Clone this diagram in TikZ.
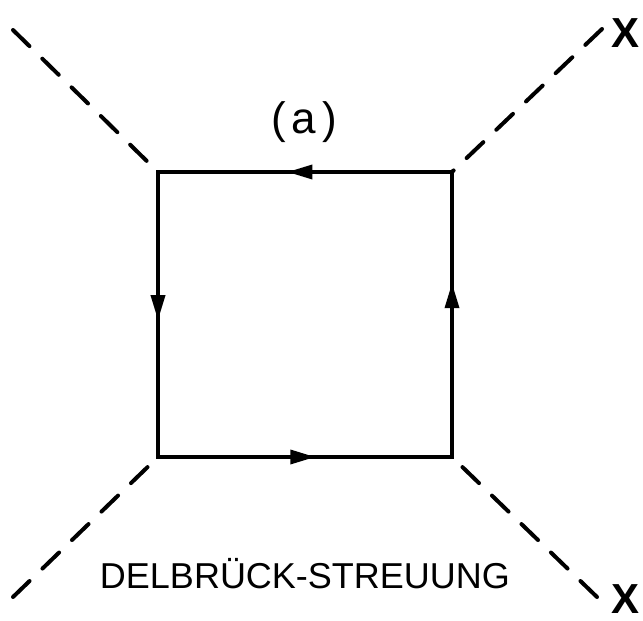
\documentclass[tikz,border=0pt]{standalone}
\usepackage{fontspec}
\setmainfont{Liberation Sans}
\usetikzlibrary{arrows.meta,decorations.markings}
\begin{document}
\begin{tikzpicture}[x=1pt,y=-1pt,
  leg/.style={line width=4pt,line cap=round,dash pattern=on 23pt off 18pt},
  prop/.style={line width=3.5pt,line cap=butt,postaction={decorate},
    decoration={markings,mark=at position #1 with {\arrow{Triangle[length=25pt,width=14pt]}}}},
  lbl/.style={inner sep=0pt,anchor=base},
  xlbl/.style={lbl,font=\bfseries\fontsize{42}{48}\selectfont}]
\useasboundingbox (0,0) rectangle (643,621);
\coordinate (tl) at (158,172);
\coordinate (tr) at (452,172);
\coordinate (br) at (452,457);
\coordinate (bl) at (158,457);
\coordinate (etl) at (13,30);
\coordinate (etr) at (602,29);
\coordinate (ebl) at (13,597);
\coordinate (ebr) at (597,597);
\draw[leg] (etl) -- (tl);
\draw[leg] (etr) -- (tr);
\draw[leg] (ebl) -- (bl);
\draw[leg] (ebr) -- (br);
\draw[prop=0.56] (tr) -- (tl);
\draw[prop=0.52] (tl) -- (bl);
\draw[prop=0.535] (bl) -- (br);
\draw[prop=0.61] (br) -- (tr);
\draw[line width=3.5pt,line join=miter] (tl) -- (tr) -- (br) -- (bl) -- cycle;
\node[lbl,font=\fontsize{44}{52}\selectfont] (a) at (304,133) {(\hspace{6pt}a\hspace{6pt})};
\node[lbl,font=\fontsize{36}{43}\selectfont] (title) at (305,588) {DELBRÜCK-STREUUNG};
\node[xlbl] (x1) at (626,47) {X};
\node[xlbl] (x2) at (626,613) {X};
\end{tikzpicture}
\end{document}
